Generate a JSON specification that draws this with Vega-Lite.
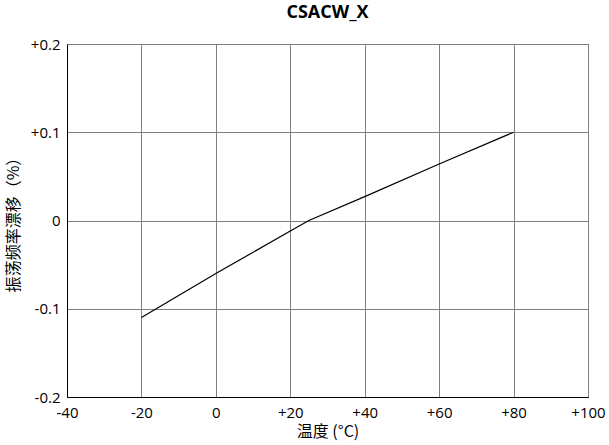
{
  "$schema": "https://vega.github.io/schema/vega-lite/v6.json",
  "width": 521,
  "height": 353,
  "autosize": {"type": "none"},
  "padding": {"left": 67, "top": 44, "right": 21, "bottom": 48},
  "background": "white",
  "title": {"text": "CSACW_X", "fontSize": 18, "fontWeight": "bold", "font": "Open Sans", "color": "black", "offset": 15},
  "config": {
    "view": {"stroke": "black", "strokeWidth": 1},
    "axis": {"labelFont": "Open Sans", "titleFont": "Noto Sans CJK SC", "labelFontSize": 15, "titleFontSize": 16, "labelColor": "black", "titleColor": "black", "titleFontWeight": "normal", "gridColor": "#808080", "gridOpacity": 1, "gridWidth": 1, "domainColor": "black", "ticks": false}
  },
  "data": {"values": [
    {"t": -20, "d": -0.11},
    {"t": 0, "d": -0.06},
    {"t": 20, "d": -0.012},
    {"t": 25, "d": 0},
    {"t": 40, "d": 0.027},
    {"t": 60, "d": 0.064},
    {"t": 80, "d": 0.1}
  ]},
  "mark": {"type": "line", "color": "black", "strokeWidth": 1.2},
  "encoding": {
    "x": {"field": "t", "type": "quantitative", "scale": {"domain": [-40, 100], "nice": false},
      "axis": {"values": [-40, -20, 0, 20, 40, 60, 80, 100], "title": "温度 (°C)", "labelPadding": 8, "titlePadding": 3, "labelExpr": "datum.value > 0 ? '+' + datum.value : '' + datum.value", "labelFlush": false}},
    "y": {"field": "d", "type": "quantitative", "scale": {"domain": [-0.2, 0.2], "nice": false, "zero": false},
      "axis": {"values": [-0.2, -0.1, 0, 0.1, 0.2], "title": "振荡频率漂移（%）", "labelPadding": 7, "titlePadding": 9, "labelExpr": "datum.value > 0 ? '+' + datum.value : '' + datum.value", "labelFlush": false}}
  }
}
